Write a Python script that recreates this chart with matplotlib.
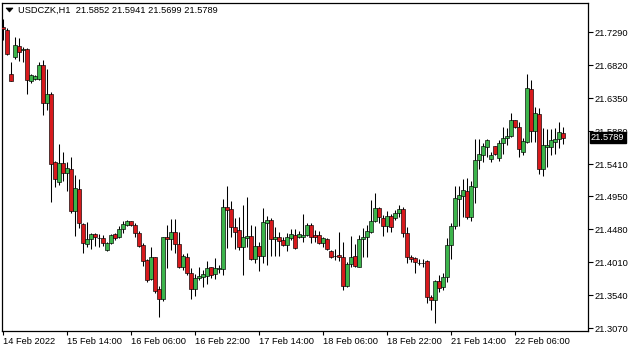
import matplotlib
matplotlib.use("Agg")
import matplotlib.pyplot as plt
from matplotlib.patches import Polygon
import matplotlib.transforms as mtransforms

symbol = "USDCZK,H1"

opens = [21.7366, 21.7323, 21.6696, 21.6938, 21.7095, 21.7038, 21.7059, 21.6596, 21.6624, 21.6624,
         21.6824, 21.6282, 21.6411, 21.5441, 21.5155, 21.5427, 21.5284, 21.5341, 21.4742, 21.5056,
         21.4557, 21.4272, 21.4343, 21.4414, 21.4360, 21.4358, 21.4186, 21.4286, 21.4414, 21.4371,
         21.4486, 21.4543, 21.4600, 21.4543, 21.4429, 21.4257, 21.4043, 21.3773, 21.4086, 21.3630,
         21.3487, 21.4371, 21.4343, 21.4443, 21.4272, 21.3944, 21.4086, 21.3858, 21.3630, 21.3787,
         21.3801, 21.3815, 21.3944, 21.3844, 21.3915, 21.3915, 21.4799, 21.4771, 21.4514, 21.4471,
         21.4229, 21.4358, 21.4386, 21.4058, 21.4243, 21.4101, 21.4571, 21.4614, 21.4343, 21.4371,
         21.4329, 21.4257, 21.4358, 21.4400, 21.4371, 21.4371, 21.4400, 21.4543, 21.4400, 21.4400,
         21.4286, 21.4343, 21.4172, 21.4101, 21.4115, 21.4086, 21.3673, 21.3987, 21.4101, 21.3944,
         21.4343, 21.4371, 21.4443, 21.4600, 21.4785, 21.4642, 21.4528, 21.4671, 21.4642, 21.4714,
         21.4771, 21.4429, 21.4086, 21.4072, 21.4003, 21.3999, 21.4029, 21.3516, 21.3473, 21.3744,
         21.3658, 21.3801, 21.4257, 21.4528, 21.4913, 21.4956, 21.5028, 21.4656, 21.5085, 21.5469,
         21.5541, 21.5655, 21.5484, 21.5669, 21.5498, 21.5712, 21.5783, 21.5812, 21.6040, 21.5940,
         21.5583, 21.5726, 21.6482, 21.5883, 21.6125, 21.5341, 21.5655, 21.5655, 21.5726, 21.5769,
         21.5852]
highs = [21.7480, 21.7352, 21.6866, 21.7224, 21.7209, 21.7081, 21.7066, 21.6695, 21.6681, 21.6866,
         21.6895, 21.6767, 21.6439, 21.5455, 21.5698, 21.5583, 21.5441, 21.5512, 21.5256, 21.5198,
         21.4571, 21.4585, 21.4429, 21.4429, 21.4414, 21.4400, 21.4300, 21.4414, 21.4429, 21.4528,
         21.4600, 21.4614, 21.4605, 21.4571, 21.4457, 21.4286, 21.4058, 21.4229, 21.4090, 21.3673,
         21.4378, 21.4543, 21.4628, 21.4628, 21.4443, 21.4129, 21.4143, 21.3929, 21.3844, 21.3944,
         21.3901, 21.4029, 21.3950, 21.4072, 21.3972, 21.4913, 21.5099, 21.4885, 21.4642, 21.4656,
         21.4828, 21.4942, 21.4543, 21.4528, 21.4300, 21.4785, 21.4671, 21.4642, 21.4514, 21.4443,
         21.4371, 21.4429, 21.4486, 21.4486, 21.4457, 21.4699, 21.4571, 21.4571, 21.4471, 21.4457,
         21.4371, 21.4357, 21.4186, 21.4200, 21.4443, 21.4300, 21.4015, 21.4386, 21.4272, 21.4400,
         21.4500, 21.4543, 21.4899, 21.4999, 21.4799, 21.4685, 21.4742, 21.4699, 21.4756, 21.4828,
         21.4799, 21.4514, 21.4115, 21.4086, 21.4058, 21.4058, 21.4043, 21.3544, 21.3758, 21.3830,
         21.3858, 21.4357, 21.4571, 21.5099, 21.5099, 21.5198, 21.5213, 21.5170, 21.5769, 21.5769,
         21.5712, 21.5769, 21.5583, 21.5672, 21.5755, 21.5940, 21.5926, 21.6140, 21.6045, 21.6011,
         21.5783, 21.6696, 21.6610, 21.6225, 21.6211, 21.5926, 21.5911, 21.5911, 21.5926, 21.6011,
         21.5941]
lows = [21.7181, 21.6967, 21.6589, 21.6909, 21.6881, 21.6866, 21.6411, 21.6567, 21.6610, 21.6617,
        21.6111, 21.6182, 21.4870, 21.5085, 21.5113, 21.5170, 21.5028, 21.4714, 21.4386, 21.4500,
        21.4143, 21.4229, 21.4200, 21.4243, 21.4229, 21.4243, 21.4172, 21.4272, 21.4329, 21.4364,
        21.4429, 21.4528, 21.4528, 21.4371, 21.4229, 21.3958, 21.3730, 21.3765, 21.3573, 21.3231,
        21.3459, 21.3929, 21.4186, 21.4143, 21.3929, 21.3901, 21.3830, 21.3487, 21.3530, 21.3758,
        21.3658, 21.3701, 21.3787, 21.3773, 21.3858, 21.3830, 21.4215, 21.4371, 21.4200, 21.4186,
        21.3830, 21.4229, 21.4043, 21.4001, 21.3887, 21.4001, 21.3972, 21.4101, 21.4101, 21.4101,
        21.4243, 21.4172, 21.4329, 21.4200, 21.4358, 21.4300, 21.4386, 21.4286, 21.4300, 21.4272,
        21.4229, 21.4186, 21.4072, 21.4043, 21.4029, 21.3616, 21.3658, 21.3944, 21.3944, 21.3937,
        21.4086, 21.4086, 21.4429, 21.4585, 21.4571, 21.4386, 21.4443, 21.4443, 21.4614, 21.4656,
        21.4371, 21.4001, 21.4015, 21.3858, 21.3972, 21.3944, 21.3430, 21.3330, 21.3145, 21.3587,
        21.3616, 21.3730, 21.4058, 21.4486, 21.4528, 21.4656, 21.4628, 21.4600, 21.4856, 21.5341,
        21.5441, 21.5512, 21.5441, 21.5541, 21.5455, 21.5555, 21.5683, 21.5797, 21.5926, 21.5512,
        21.5541, 21.5712, 21.5726, 21.5726, 21.5270, 21.5241, 21.5370, 21.5541, 21.5555, 21.5640,
        21.5699]
closes = [21.7337, 21.6981, 21.6596, 21.7109, 21.7009, 21.7052, 21.6610, 21.6681, 21.6667, 21.6824,
          21.6282, 21.6411, 21.5412, 21.5198, 21.5427, 21.5284, 21.5355, 21.4742, 21.5070, 21.4571,
          21.4286, 21.4343, 21.4414, 21.4371, 21.4356, 21.4286, 21.4286, 21.4400, 21.4358, 21.4486,
          21.4557, 21.4600, 21.4543, 21.4429, 21.4243, 21.4029, 21.3758, 21.4086, 21.3601, 21.3487,
          21.4371, 21.4343, 21.4443, 21.4272, 21.3944, 21.4101, 21.3858, 21.3630, 21.3787, 21.3815,
          21.3844, 21.3929, 21.3830, 21.3929, 21.3929, 21.4799, 21.4756, 21.4514, 21.4443, 21.4229,
          21.4371, 21.4386, 21.4058, 21.4243, 21.4101, 21.4585, 21.4614, 21.4343, 21.4371, 21.4315,
          21.4257, 21.4371, 21.4414, 21.4215, 21.4414, 21.4400, 21.4543, 21.4371, 21.4371, 21.4286,
          21.4358, 21.4200, 21.4086, 21.4098, 21.4086, 21.3673, 21.3987, 21.4086, 21.3958, 21.4343,
          21.4371, 21.4457, 21.4600, 21.4785, 21.4656, 21.4528, 21.4671, 21.4514, 21.4714, 21.4771,
          21.4429, 21.4086, 21.4051, 21.4015, 21.3999, 21.4003, 21.3516, 21.3473, 21.3744, 21.3644,
          21.3801, 21.4257, 21.4528, 21.4928, 21.4970, 21.5042, 21.4656, 21.5099, 21.5469, 21.5555,
          21.5669, 21.5755, 21.5541, 21.5555, 21.5712, 21.5783, 21.5812, 21.6040, 21.5940, 21.5626,
          21.5740, 21.6496, 21.5883, 21.6140, 21.5341, 21.5683, 21.5683, 21.5755, 21.5769, 21.5869,
          21.5789]

tick_bars = [0, 16, 32, 48, 64, 80, 96, 112, 128]
tick_texts = ["14 Feb 2022", "15 Feb 14:00", "16 Feb 06:00", "16 Feb 22:00", "17 Feb 14:00",
              "18 Feb 06:00", "18 Feb 22:00", "21 Feb 14:00", "22 Feb 06:00"]
price_ticks = [21.7290, 21.6820, 21.6350, 21.5880, 21.5410, 21.4950, 21.4480, 21.4010, 21.3540, 21.3070]
price_texts = ["21.7290", "21.6820", "21.6350", "21.5880", "21.5410", "21.4950", "21.4480",
               "21.4010", "21.3540", "21.3070"]

BULL = "#3cb44b"
BEAR = "#d7191c"
FONT = "Liberation Sans"
FS = 6.7

W, H = 635, 352
fig = plt.figure(figsize=(W / 100, H / 100), dpi=100)
fig.patch.set_facecolor("white")
ax = fig.add_axes([2 / W, 1 - 331 / H, 586 / W, 328 / H])
ax.set_facecolor("white")

xs = list(range(len(opens)))
for i in xs:
    o, h, l, c = opens[i], highs[i], lows[i], closes[i]
    ax.vlines(i, l, h, color="black", linewidth=0.75, zorder=2)
    bottom = min(o, c)
    height = max(abs(c - o), 0.0004)
    color = BULL if c >= o else BEAR
    ax.bar(i, height, bottom=bottom, width=0.76, color=color, edgecolor="black",
           linewidth=0.45, zorder=3)

ax.set_xlim(-0.25, 146.25)
ax.set_ylim(21.3031, 21.7708)

for sp in ax.spines.values():
    sp.set_linewidth(0.9)
    sp.set_color("black")

ax.yaxis.tick_right()
ax.set_yticks(price_ticks)
ax.set_yticklabels(price_texts, fontsize=FS, family=FONT)
ax.tick_params(axis="y", direction="out", length=3.5, width=0.8, pad=1.5, colors="black")

ax.set_xticks(tick_bars)
ax.set_xticklabels(tick_texts, fontsize=FS, family=FONT)
for lab in ax.get_xticklabels():
    lab.set_ha("left")
ax.tick_params(axis="x", direction="out", length=3, width=0.8, pad=1.5, colors="black")

# current price label
trans = mtransforms.blended_transform_factory(ax.transAxes, ax.transData)
ax.text(1.0 + 3 / 586, closes[-1], "%.4f" % closes[-1], transform=trans, ha="left", va="center",
        fontsize=FS, family=FONT, color="white", zorder=10, clip_on=False,
        bbox=dict(boxstyle="square,pad=0.15", facecolor="black", edgecolor="black"))

# header
tri = Polygon([[6 / W, 1 - 8 / H], [13 / W, 1 - 8 / H], [9.5 / W, 1 - 12 / H]], closed=True,
              transform=fig.transFigure, facecolor="black", edgecolor="black", linewidth=0.5)
fig.patches.append(tri)
header = "%s  %.4f %.4f %.4f %.4f" % (symbol, opens[-1], highs[-1], lows[-1], closes[-1])
fig.text(18 / W, 1 - 10.5 / H, header, fontsize=FS, family=FONT, va="center", ha="left", color="black")

fig.savefig("out.png", dpi=100, facecolor="white")
